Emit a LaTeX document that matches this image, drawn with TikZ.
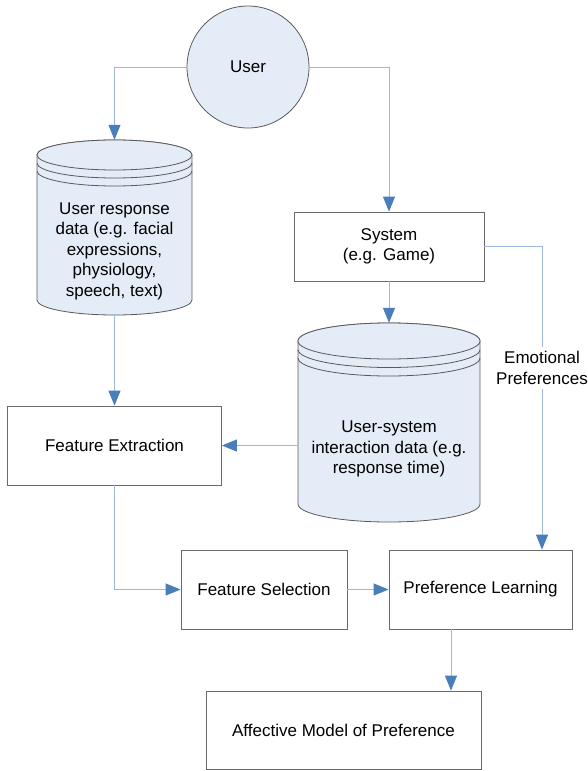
\documentclass[tikz,border=0pt]{standalone}
\usepackage{fontspec}
\setmainfont{Liberation Sans}
\usetikzlibrary{arrows.meta}

\definecolor{lienbleu}{HTML}{9DB8DB}
\definecolor{pointebleu}{HTML}{4A7EBB}
\definecolor{fondbleu}{HTML}{E4ECF7}
\definecolor{bordgris}{HTML}{6A6A6A}

\begin{document}
\begin{tikzpicture}[x=1pt,y=-1pt]
  \tikzstyle{texte}=[font=\fontsize{17}{20.5}\selectfont, align=center]
  \tikzstyle{boite}=[texte, rectangle, draw=bordgris, fill=white, line width=0.8pt, inner sep=0pt]
  \tikzstyle{base}=[draw=bordgris!85!black, fill=fondbleu, line width=0.8pt]
  \tikzstyle{zone}=[rectangle, inner sep=0pt]
  \tikzstyle{fleche}=[draw=lienbleu, line width=1pt, -{Triangle[length=15pt, width=12pt, color=pointebleu]}]
  \tikzstyle{lien}=[draw=lienbleu, line width=1pt]
  \useasboundingbox (0,0) rectangle (588,771);

  % user
  \node[texte, circle, base, minimum size=122pt] (user) at (248,67) {User};

  % user response data store
  \filldraw[base] (37,155) -- (37,300) arc[start angle=180, end angle=0, x radius=77.5, y radius=15]
    -- (192,155) arc[start angle=0, end angle=-180, x radius=77.5, y radius=15] -- cycle;
  \draw[base] (114.5,155) ellipse [x radius=77.5, y radius=15];
  \draw[base, fill=none] (37,163) arc[start angle=180, end angle=0, x radius=77.5, y radius=15];
  \draw[base, fill=none] (37,171) arc[start angle=180, end angle=0, x radius=77.5, y radius=15];
  \node[zone, minimum width=155pt, minimum height=175pt] (urdb) at (114.5,227.5) {};
  \node[texte] (urtexte) at (114.5,251) {User response\\data (e.g. facial\\expressions,\\physiology,\\speech, text)};

  % system
  \node[boite, minimum width=190pt, minimum height=69pt] (sys) at (389,246.5) {System\\(e.g. Game)};

  % interaction data store
  \filldraw[base] (298,341) -- (298,504) arc[start angle=180, end angle=0, x radius=91, y radius=18]
    -- (480,341) arc[start angle=0, end angle=-180, x radius=91, y radius=18] -- cycle;
  \draw[base] (389,341) ellipse [x radius=91, y radius=18];
  \draw[base, fill=none] (298,349.5) arc[start angle=180, end angle=0, x radius=91, y radius=18];
  \draw[base, fill=none] (298,358) arc[start angle=180, end angle=0, x radius=91, y radius=18];
  \node[zone, minimum width=182pt, minimum height=199pt] (idb) at (389,422.5) {};
  \node[texte] (idtexte) at (389,449) {User-system\\interaction data (e.g.\\response time)};

  % processing boxes
  \node[boite, minimum width=214pt, minimum height=79pt] (fext) at (114.5,445.5) {Feature Extraction};
  \node[boite, minimum width=166pt, minimum height=79pt] (fsel) at (264,589.5) {Feature Selection};
  \node[boite, minimum width=183pt, minimum height=79pt] (plearn) at (480.5,589.5) {Preference Learning};
  \node[boite, minimum width=275pt, minimum height=78pt] (affect) at (343.5,730) {Affective Model of Preference};

  \node[texte, fill=white, inner xsep=0pt, inner ysep=4pt] (emo) at (542,368) {Emotional\\Preferences};

  % connectors
  \draw[fleche] (user) -| (urdb);
  \draw[fleche] (user) -| (sys);
  \draw[fleche] (urdb) -- (fext);
  \draw[fleche] (sys) -- (idb);
  \draw[fleche] (idb.west |- fext) -- (fext);
  \draw[fleche] (fext) |- (fsel);
  \draw[fleche] (fsel) -- (plearn);
  \draw[lien] (sys) -| (emo);
  \draw[fleche] (emo) -- (emo |- plearn.north);
  \draw[fleche] ([xshift=-29.5pt]plearn.south) -- ([xshift=-29.5pt]plearn.south |- affect.north);
\end{tikzpicture}
\end{document}
